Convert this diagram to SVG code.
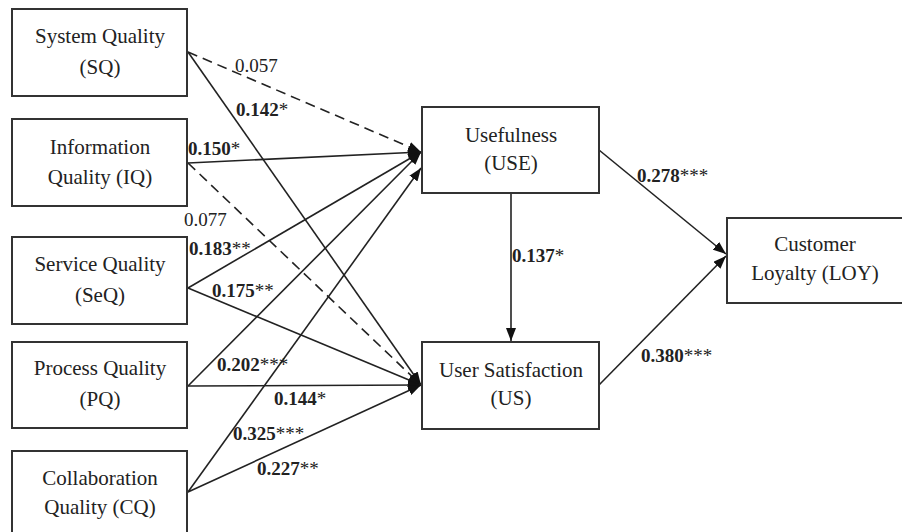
<svg xmlns="http://www.w3.org/2000/svg" width="902" height="532" viewBox="0 0 902 532">
<style>
.box{fill:#fff;stroke:#333;stroke-width:2}
.lbl{font-family:"Liberation Serif","Times New Roman",serif;font-size:21px;fill:#222;text-anchor:middle}
.c{stroke:#222;stroke-width:1.6;fill:none}
.d{stroke-dasharray:10 6}
.n{font-family:"Liberation Serif","Times New Roman",serif;font-size:19px;fill:#222}
.b{font-weight:bold;font-size:19px}
.s{font-weight:normal}
</style>
<defs>
<marker id="ah" markerWidth="13" markerHeight="10" refX="13" refY="5" orient="auto" markerUnits="userSpaceOnUse">
<path d="M0,0 L13,5 L0,10 z" fill="#111"/>
</marker>
</defs>
<rect width="902" height="532" fill="#fff"/>
<g id="connectors">
<line class="c d" x1="188" y1="52" x2="421" y2="152" marker-end="url(#ah)"/>
<line class="c" x1="188" y1="52" x2="421" y2="385" marker-end="url(#ah)"/>
<line class="c" x1="188" y1="163" x2="421" y2="152" marker-end="url(#ah)"/>
<line class="c d" x1="188" y1="163" x2="421" y2="385" marker-end="url(#ah)"/>
<line class="c" x1="188" y1="288" x2="421" y2="152" marker-end="url(#ah)"/>
<line class="c" x1="188" y1="288" x2="421" y2="385" marker-end="url(#ah)"/>
<line class="c" x1="188" y1="386" x2="421" y2="152" marker-end="url(#ah)"/>
<line class="c" x1="188" y1="386" x2="421" y2="385" marker-end="url(#ah)"/>
<line class="c" x1="188" y1="492" x2="421" y2="168" marker-end="url(#ah)"/>
<line class="c" x1="188" y1="492" x2="421" y2="385" marker-end="url(#ah)"/>
<line class="c" x1="511" y1="193" x2="511" y2="341" marker-end="url(#ah)"/>
<line class="c" x1="599" y1="150" x2="726" y2="254" marker-end="url(#ah)"/>
<line class="c" x1="599" y1="385" x2="726" y2="256" marker-end="url(#ah)"/>
</g>
<g id="labels">
<text class="n" x="235" y="72">0.057</text>
<text class="n b" x="236" y="116">0.142<tspan class="s">*</tspan></text>
<text class="n b" x="188" y="155">0.150<tspan class="s">*</tspan></text>
<text class="n" x="184" y="226">0.077</text>
<text class="n b" x="189" y="255">0.183<tspan class="s">**</tspan></text>
<text class="n b" x="212" y="297">0.175<tspan class="s">**</tspan></text>
<text class="n b" x="217" y="371">0.202<tspan class="s">***</tspan></text>
<text class="n b" x="274" y="405">0.144<tspan class="s">*</tspan></text>
<text class="n b" x="233" y="440">0.325<tspan class="s">***</tspan></text>
<text class="n b" x="257" y="475">0.227<tspan class="s">**</tspan></text>
<text class="n b" x="512" y="262">0.137<tspan class="s">*</tspan></text>
<text class="n b" x="637" y="182">0.278<tspan class="s">***</tspan></text>
<text class="n b" x="641" y="362">0.380<tspan class="s">***</tspan></text>
</g>
<g id="SQ">
<rect class="box" x="12" y="9" width="175" height="87"/>
<text class="lbl" x="100" y="43">System Quality</text>
<text class="lbl" x="100" y="74">(SQ)</text>
</g>
<g id="IQ">
<rect class="box" x="12" y="119" width="175" height="87"/>
<text class="lbl" x="100" y="154">Information</text>
<text class="lbl" x="100" y="184">Quality (IQ)</text>
</g>
<g id="SeQ">
<rect class="box" x="12" y="237" width="175" height="87"/>
<text class="lbl" x="100" y="271">Service Quality</text>
<text class="lbl" x="100" y="302">(SeQ)</text>
</g>
<g id="PQ">
<rect class="box" x="12" y="342" width="175" height="86"/>
<text class="lbl" x="100" y="375">Process Quality</text>
<text class="lbl" x="100" y="406">(PQ)</text>
</g>
<g id="CQ">
<rect class="box" x="12" y="451" width="175" height="90"/>
<text class="lbl" x="100" y="485">Collaboration</text>
<text class="lbl" x="100" y="514">Quality (CQ)</text>
</g>
<g id="USE">
<rect class="box" x="422" y="107" width="177" height="86"/>
<text class="lbl" x="511" y="142">Usefulness</text>
<text class="lbl" x="511" y="170">(USE)</text>
</g>
<g id="US">
<rect class="box" x="422" y="342" width="177" height="87"/>
<text class="lbl" x="511" y="377">User Satisfaction</text>
<text class="lbl" x="511" y="405">(US)</text>
</g>
<g id="LOY">
<rect class="box" x="727" y="218" width="180" height="85"/>
<text class="lbl" x="815" y="251">Customer</text>
<text class="lbl" x="815" y="280">Loyalty (LOY)</text>
</g>
</svg>
